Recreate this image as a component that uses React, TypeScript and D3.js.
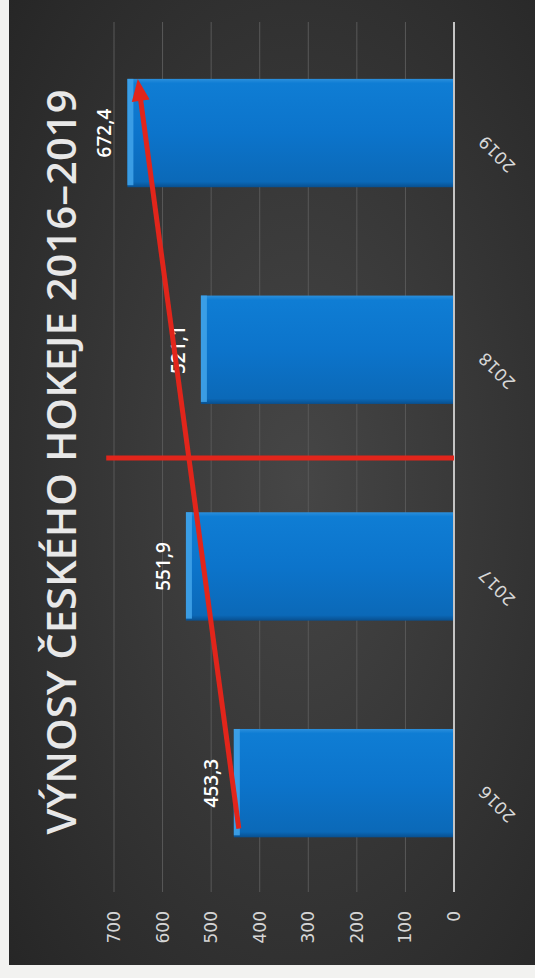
import React, { useEffect, useRef } from "react";
import * as d3 from "d3";

const years = ["2016", "2017", "2018", "2019"];
const revenues = [453.3, 551.9, 521.1, 672.4];
const valueLabels = ["453,3", "551,9", "521,1", "672,4"];
const tickValues = [0, 100, 200, 300, 400, 500, 600, 700];
const titleText = "VÝNOSY ČESKÉHO HOKEJE 2016–2019";

// red trend arrow drawn over the bars (band offset 0..1, value)
const arrowFrom = { year: "2016", offset: 0.08, value: 443 };
const arrowTo = { year: "2019", offset: 1.0, value: 651 };
// red marker line between 2017 and 2018
const dividerAfter = "2017";
const dividerValue = 716;

const App = () => {
  const svgRef = useRef<SVGSVGElement>(null);
  const svgWidth = 535;
  const svgHeight = 978;

  useEffect(() => {
    const svg = d3.select(svgRef.current);
    svg.selectAll("*").remove();

    const defs = svg.append("defs");
    const bg = defs
      .append("radialGradient")
      .attr("id", "bg")
      .attr("cx", "55%")
      .attr("cy", "50%")
      .attr("r", "75%");
    bg.append("stop").attr("offset", "0%").attr("stop-color", "#464646");
    bg.append("stop").attr("offset", "100%").attr("stop-color", "#262626");

    const barGrad = defs
      .append("linearGradient")
      .attr("id", "bar")
      .attr("x1", 0)
      .attr("x2", 1)
      .attr("y1", 0)
      .attr("y2", 0);
    barGrad.append("stop").attr("offset", "0%").attr("stop-color", "#084f8f");
    barGrad.append("stop").attr("offset", "5%").attr("stop-color", "#0b69b8");
    barGrad.append("stop").attr("offset", "50%").attr("stop-color", "#0c74cb");
    barGrad.append("stop").attr("offset", "96%").attr("stop-color", "#0f7dd4");
    barGrad.append("stop").attr("offset", "100%").attr("stop-color", "#2b8fdc");

    // paper + dark slide
    svg.append("rect").attr("width", svgWidth).attr("height", svgHeight).attr("fill", "#f2f2f0");
    svg
      .append("rect")
      .attr("x", 9)
      .attr("y", 0)
      .attr("width", svgWidth - 9)
      .attr("height", 965)
      .attr("fill", "url(#bg)");

    // chart drawn upright, then turned a quarter turn counter-clockwise
    const g = svg.append("g").attr("transform", `translate(0, ${svgHeight}) rotate(-90)`);

    const x = d3
      .scaleBand()
      .domain(years)
      .range([86.5, 953.3])
      .paddingInner(0.5)
      .paddingOuter(0.25);
    const y = d3.scaleLinear().domain([0, 700]).range([454, 114]);
    const bw = x.bandwidth();

    // gridlines
    g.selectAll(".grid")
      .data(tickValues.slice(1))
      .enter()
      .append("line")
      .attr("x1", 86)
      .attr("x2", 956)
      .attr("y1", (d) => y(d))
      .attr("y2", (d) => y(d))
      .attr("stroke", "#595959")
      .attr("stroke-width", 1);

    // tick labels
    g.selectAll(".tick")
      .data(tickValues)
      .enter()
      .append("text")
      .attr("x", 67)
      .attr("y", (d) => y(d))
      .attr("dy", "0.35em")
      .attr("text-anchor", "end")
      .attr("fill", "#d6d6d6")
      .style("font-family", "DejaVu Sans, sans-serif")
      .style("font-size", "17px")
      .text((d) => d);

    // bars
    const bars = g.selectAll(".bar").data(years).enter().append("g");
    bars
      .append("rect")
      .attr("x", (d) => x(d)!)
      .attr("y", (d, i) => y(revenues[i]))
      .attr("width", bw)
      .attr("height", (d, i) => y(0) - y(revenues[i]))
      .attr("fill", "url(#bar)");
    bars
      .append("rect")
      .attr("x", (d) => x(d)! + 2)
      .attr("y", (d, i) => y(revenues[i]))
      .attr("width", bw - 2)
      .attr("height", 6)
      .attr("fill", "#3fa2e8")
      .attr("opacity", 0.9);

    // baseline
    g.append("line")
      .attr("x1", 86)
      .attr("x2", 956)
      .attr("y1", y(0))
      .attr("y2", y(0))
      .attr("stroke", "#c4c4c4")
      .attr("stroke-width", 2);

    // value labels
    g.selectAll(".val")
      .data(years)
      .enter()
      .append("text")
      .attr("x", (d) => x(d)! + bw / 2)
      .attr("y", (d, i) => y(revenues[i]) - 16)
      .attr("text-anchor", "middle")
      .attr("fill", "#ffffff")
      .style("font-family", "Open Sans, sans-serif")
      .style("font-weight", 600)
      .style("font-size", "19px")
      .text((d, i) => valueLabels[i]);

    // category labels
    g.selectAll(".cat")
      .data(years)
      .enter()
      .append("text")
      .attr("transform", (d) => `translate(${x(d)! + bw / 2 - 21}, 497) rotate(-45)`)
      .attr("text-anchor", "middle")
      .attr("dy", "0.35em")
      .attr("fill", "#d8d8d8")
      .style("font-family", "DejaVu Sans, sans-serif")
      .style("font-size", "17px")
      .text((d) => d);

    // title
    g.append("text")
      .attr("x", 516)
      .attr("y", 76)
      .attr("text-anchor", "middle")
      .attr("fill", "#e8e8e8")
      .attr("textLength", 745)
      .attr("lengthAdjust", "spacingAndGlyphs")
      .style("font-family", "Open Sans, sans-serif")
      .style("font-weight", 600)
      .style("font-size", "40px")
      .text(titleText);

    // red divider
    const divX = x(dividerAfter)! + bw + (x.step() - bw) / 2;
    g.append("line")
      .attr("x1", divX)
      .attr("x2", divX)
      .attr("y1", y(0))
      .attr("y2", y(dividerValue))
      .attr("stroke", "#e1251b")
      .attr("stroke-width", 5);

    // red arrow
    const ax1 = x(arrowFrom.year)! + arrowFrom.offset * bw;
    const ay1 = y(arrowFrom.value);
    const ax2 = x(arrowTo.year)! + arrowTo.offset * bw;
    const ay2 = y(arrowTo.value);
    const ang = Math.atan2(ay2 - ay1, ax2 - ax1);
    const headLen = 22;
    const headW = 9;
    const bx = ax2 - headLen * Math.cos(ang);
    const by = ay2 - headLen * Math.sin(ang);
    g.append("line")
      .attr("x1", ax1)
      .attr("y1", ay1)
      .attr("x2", bx + 2 * Math.cos(ang))
      .attr("y2", by + 2 * Math.sin(ang))
      .attr("stroke", "#e1251b")
      .attr("stroke-width", 5);
    const px = -Math.sin(ang);
    const py = Math.cos(ang);
    g.append("polygon")
      .attr(
        "points",
        [
          [ax2, ay2],
          [bx + headW * px, by + headW * py],
          [bx - headW * px, by - headW * py],
        ]
          .map((p) => p.join(","))
          .join(" ")
      )
      .attr("fill", "#e1251b");
  }, []);

  return (
    <>
      <style>{`body{margin:0}`}</style>
      <svg ref={svgRef} width={svgWidth} height={svgHeight} style={{ display: "block" }} />
    </>
  );
};

export default App;
